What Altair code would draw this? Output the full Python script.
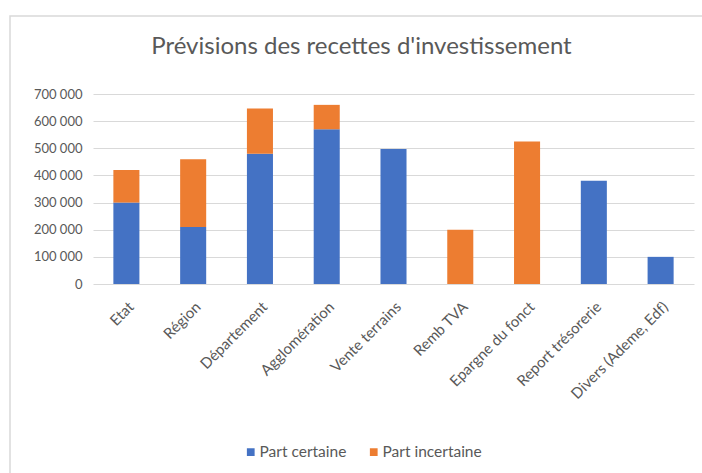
import altair as alt
import pandas as pd

categories = ["Etat", "Région", "Département", "Agglomération", "Vente terrains",
              "Remb TVA", "Epargne du fonct", "Report trésorerie", "Divers (Ademe, Edf)"]
part_certaine = [300000, 210000, 480000, 570000, 497000, 0, 0, 380000, 100000]
part_incertaine = [120000, 250000, 167000, 90000, 0, 200000, 525000, 0, 0]
series = ["Part certaine", "Part incertaine"]
colors = ["#4472C4", "#ED7D31"]

rows = []
for i, c in enumerate(categories):
    rows.append({"cat": c, "serie": series[0], "val": part_certaine[i], "ord": 0})
    rows.append({"cat": c, "serie": series[1], "val": part_incertaine[i], "ord": 1})
df = pd.DataFrame(rows)

W, H = 601, 190
PL, PT = 93, 94

bars = alt.Chart(df).mark_bar().encode(
    x=alt.X("cat:N", sort=categories, title=None,
            scale=alt.Scale(paddingInner=0.61, paddingOuter=0.305),
            axis=alt.Axis(labelAngle=-45, labelFontSize=15, labelColor="#595959",
                          labelFont="Lato", ticks=False, domain=False, labelPadding=15,
                          grid=False, labelOverlap=False)),
    y=alt.Y("val:Q", stack="zero", title=None,
            scale=alt.Scale(domain=[0, 700000], nice=False),
            axis=alt.Axis(values=[0, 100000, 200000, 300000, 400000, 500000, 600000, 700000],
                          labelExpr="replace(format(datum.value, ','), ',', ' ')",
                          labelFontSize=13, labelColor="#595959", labelFont="Lato",
                          ticks=False, domain=False, labelPadding=11,
                          gridColor="#d9d9d9", gridWidth=1)),
    color=alt.Color("serie:N", title=None,
                    scale=alt.Scale(domain=series, range=colors),
                    legend=alt.Legend(orient="none", direction="horizontal",
                                      legendX=150, legendY=350, symbolType="square",
                                      symbolSize=60, symbolStrokeWidth=0,
                                      labelFontSize=15.5, labelColor="#595959",
                                      labelFont="Lato", columnPadding=19,
                                      symbolOffset=0, labelOffset=1)),
    order=alt.Order("ord:Q", sort="ascending"),
)

frame = alt.Chart(alt.Data(values=[{"a": 1}])).mark_rect(
    fill=None, stroke="#d9d9d9", strokeWidth=1.5
).encode(
    x=alt.value(10 - PL), x2=alt.value(702 - PL + 10),
    y=alt.value(16 - PT), y2=alt.value(473 - PT + 10),
)

chart = alt.layer(frame, bars).properties(
    width=W, height=H,
    title=alt.TitleParams("Prévisions des recettes d'investissement", fontSize=24,
                          font="Lato", fontWeight="normal", color="#595959",
                          anchor="middle", dx=-32, offset=-44),
    autosize=alt.AutoSizeParams(type="none"),
    padding={"left": PL, "top": PT, "right": 702 - PL - W, "bottom": 473 - PT - H},
).configure_view(stroke=None)

chart.save("out.html", embed_options={"renderer": "svg", "actions": False})
